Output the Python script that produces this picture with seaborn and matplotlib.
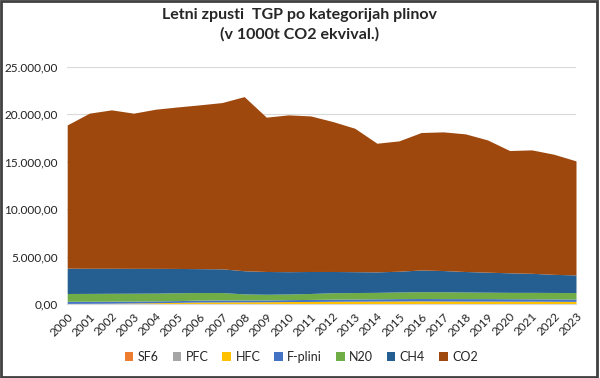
import numpy as np
import pandas as pd
import seaborn as sns
import matplotlib.pyplot as plt
from matplotlib.patches import Rectangle
from matplotlib.ticker import FuncFormatter

years = list(range(2000, 2024))

# values in 1000 t CO2 ekv. (bottom to top of the stack)
sf6 = [10, 10, 10, 10, 10, 10, 10, 10, 10, 10, 10, 10, 10, 10, 10, 10, 10, 10, 10, 10, 10, 10, 10, 10]
pfc = [30, 30, 25, 20, 20, 15, 10, 10, 8, 5, 5, 5, 5, 5, 4, 4, 4, 4, 3, 3, 3, 3, 3, 3]
hfc = [10, 20, 40, 70, 100, 140, 180, 190, 200, 215, 235, 245, 265, 275, 285, 295, 305, 295, 285, 285, 275, 275, 265, 255]
f_plini = [230, 220, 215, 200, 190, 185, 200, 210, 200, 190, 200, 210, 220, 230, 240, 250, 250, 250, 260, 260, 260, 250, 250, 250]
n2o = [820, 830, 830, 830, 820, 830, 800, 780, 640, 600, 600, 630, 680, 680, 680, 700, 720, 720, 700, 680, 670, 680, 680, 680]
ch4 = [2670, 2650, 2640, 2620, 2610, 2560, 2520, 2500, 2440, 2400, 2350, 2320, 2240, 2200, 2160, 2190, 2290, 2240, 2160, 2110, 2060, 2010, 1910, 1860]
co2 = [15110, 16360, 16710, 16370, 16790, 17040, 17280, 17540, 18370, 16280, 16540, 16410, 15820, 15130, 13570, 13750, 14500, 14630, 14520, 13950, 12900, 13020, 12670, 12030]

labels = ["SF6", "PFC", "HFC", "F-plini", "N20", "CH4", "CO2"]
colors = ["#ED7D31", "#A5A5A5", "#FFC000", "#4472C4", "#70AD47", "#255E91", "#9E480E"]

df = pd.DataFrame({"SF6": sf6, "PFC": pfc, "HFC": hfc, "F-plini": f_plini,
                   "N20": n2o, "CH4": ch4, "CO2": co2}, index=years)

sns.set_style("white")
plt.rcParams['font.family'] = ['Lato', 'DejaVu Sans']

fig = plt.figure(figsize=(6, 3.78), dpi=100)
ax = fig.add_axes([0.112, 0.196, 0.848, 0.627])

ax.stackplot(df.index, [df[c] for c in labels], labels=labels, colors=colors, linewidth=0)

ax.set_xlim(2000, 2023)
ax.set_ylim(0, 25000)
ax.set_yticks(np.arange(0, 25001, 5000))
ax.yaxis.set_major_formatter(FuncFormatter(
    lambda v, p: f"{v:,.2f}".replace(",", "X").replace(".", ",").replace("X", ".")))
ax.set_xticks(years)
ax.set_xticklabels([str(y) for y in years], rotation=45, ha="right", rotation_mode="anchor",
                   fontsize=8.5, color="#222222")
ax.tick_params(axis="y", labelsize=8.5, labelcolor="#222222", length=0, pad=7)
ax.tick_params(axis="x", length=3, color="#d9d9d9", pad=2)
ax.grid(axis="y", color="#d9d9d9", linewidth=0.8)
ax.set_axisbelow(True)
sns.despine(ax=ax, left=True, top=True, right=True)
ax.spines["bottom"].set_color("#d9d9d9")

fig.suptitle("Letni zpusti  TGP po kategorijah plinov\n(v 1000t CO2 ekvival.)",
             fontsize=11.5, fontweight="bold", y=0.98, linespacing=1.45)

ax.legend(loc="center", bbox_to_anchor=(0.46, -0.224), ncol=7, frameon=False,
          fontsize=9, handlelength=0.7, handleheight=0.7, handletextpad=0.35, columnspacing=1.1)

fig.patches.append(Rectangle((0.002, 0.003), 0.993, 0.994, transform=fig.transFigure,
                             fill=False, edgecolor="#404040", linewidth=2))

fig.savefig("out.png", dpi=100)
